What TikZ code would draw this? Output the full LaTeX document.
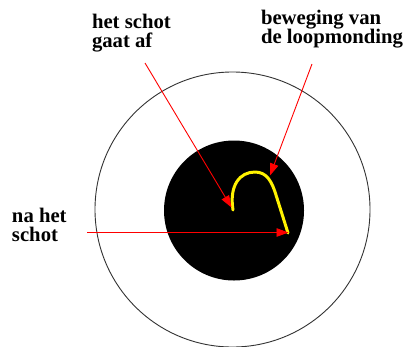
\documentclass[tikz,border=0pt]{standalone}
\usepackage{fontspec}
\setmainfont{Liberation Serif}
\newfontfamily\labelfont{Liberation Serif}[BoldFont={Liberation Serif Bold}]
\usetikzlibrary{arrows.meta}

\begin{document}
\begin{tikzpicture}[
    x=1pt, y=-1pt,
    label/.style={font=\labelfont\fontsize{20.7pt}{19pt}\selectfont\bfseries, align=left,
                  inner sep=0pt, outer sep=0pt, anchor=base west},
    pointer/.style={draw=red, line width=0.9pt, -{Triangle[length=12pt, width=8.5pt]}},
]
\useasboundingbox (0,0) rectangle (406,346);

% Target: outer ring and black centre
\draw[line width=0.9pt, black!80] (232.5,209.5) circle[radius=137.5];
\fill[black] (234,210.5) circle[radius=70];

% Path of the muzzle
\draw[yellow, line width=3pt, line cap=round, line join=round]
    (233,210) .. controls (229,185) and (240,172) .. (255,172)
    .. controls (267,172) and (272,182) .. (276,195) -- (288,233);

% Labels (anchored on the baseline of their last line)
\node[label] (fired) at (92,47) {het schot\\gaat af};
\node[label] (motion) at (261,43) {beweging van\\de loopmonding};
\node[label] (after) at (12,241) {na het\\schot};

% Arrow ends
\coordinate (fired-start) at (145,63);
\coordinate (fired-tip) at (231.5,207.5);
\coordinate (motion-start) at (312,64);
\coordinate (motion-tip) at (270,175.5);
\coordinate (after-start) at (87,232.5);
\coordinate (after-tip) at (288.5,232.5);

\draw[pointer] (fired-start) -- (fired-tip);
\draw[pointer] (motion-start) -- (motion-tip);
\draw[pointer] (after-start) -- (after-tip);
\end{tikzpicture}
\end{document}
